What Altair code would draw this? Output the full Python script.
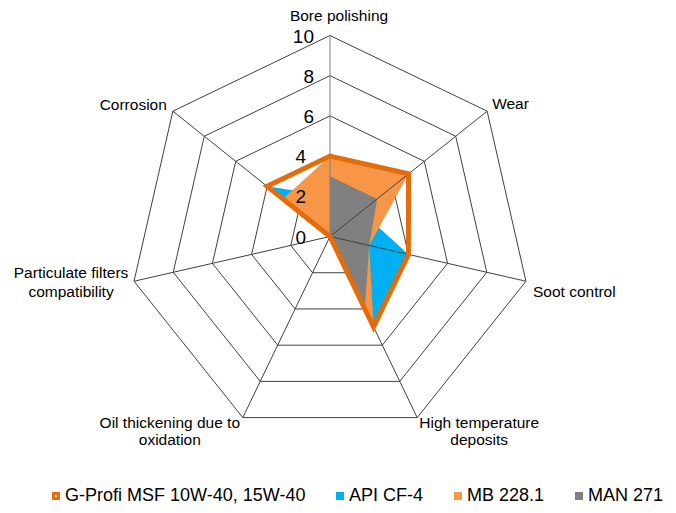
import altair as alt
import pandas as pd

# ---------------- data ----------------
categories = [
    "Bore polishing",
    "Wear",
    "Soot control",
    "High temperature\ndeposits",
    "Oil thickening due to\noxidation",
    "Particulate filters\ncompatibility",
    "Corrosion",
]
series_names = ["G-Profi MSF 10W-40, 15W-40", "API CF-4", "MB 228.1", "MAN 271"]
g_profi = [4, 5, 4, 5, 0, 0, 4]
api_cf4 = [2, 2, 4, 5, 0, 0, 4]
mb_2281 = [4, 5, 2, 5, 0, 0, 3]
man_271 = [3, 3, 2, 4, 0, 0, 0]
ticks = [0, 2, 4, 6, 8, 10]

# ---------------- style ----------------
colors = ["#E46C0A", "#00B0F0", "#F79646", "#808080"]
FONT = "Liberation Sans"
GRID = "#404040"

series_values = [g_profi, api_cf4, mb_2281, man_271]
N = len(categories)

rows = []
for s, vals in zip(series_names, series_values):
    for k, v in enumerate(vals):
        rows.append({"series": s, "k": k, "category": categories[k], "value": v})
df = pd.DataFrame(rows)
cat_df = pd.DataFrame({"k": list(range(N)), "category": categories})
ring_df = pd.DataFrame([{"ring": r, "k": k} for r in ticks[1:] for k in range(N)])
tick_df = pd.DataFrame({"tick": ticks})

PAD_TOP = 8
W, H = 660, 489
CX, CY = 322, 228.5 - PAD_TOP
UNIT = 20.1
xs = alt.Scale(domain=[-CX / UNIT, (W - CX) / UNIT], nice=False, zero=False)
ys = alt.Scale(domain=[-(H - CY) / UNIT, CY / UNIT], nice=False, zero=False)
ANG = f"datum.k * 2 * PI / {N}"
RMAX = ticks[-1]


def X(f):
    return alt.X(f"{f}:Q", scale=xs, axis=None)


def Y(f):
    return alt.Y(f"{f}:Q", scale=ys, axis=None)


def polar(ch, rfield):
    return ch.transform_calculate(ang=ANG).transform_calculate(
        px=f"datum.{rfield} * sin(datum.ang)", py=f"datum.{rfield} * cos(datum.ang)"
    )


layers = []

# rings
rings = polar(alt.Chart(ring_df), "ring").mark_line(
    interpolate="linear-closed", stroke=GRID, strokeWidth=1
).encode(x=X("px"), y=Y("py"), detail="ring:N", order="k:Q")
layers.append(rings)

# filled series
for i in [1, 2, 3]:
    name = series_names[i]
    f = polar(
        alt.Chart(df).transform_filter(alt.datum.series == name), "value"
    ).mark_line(
        interpolate="linear-closed", fill=colors[i], strokeWidth=0, strokeOpacity=0
    ).encode(x=X("px"), y=Y("py"), order="k:Q")
    layers.append(f)

# spokes
spokes = alt.Chart(cat_df).transform_calculate(ang=ANG).transform_calculate(
    ex=f"{RMAX} * sin(datum.ang)", ey=f"{RMAX} * cos(datum.ang)", zx="0", zy="0"
).mark_rule(strokeWidth=1).encode(
    x=X("zx"), y=Y("zy"), x2="ex:Q", y2="ey:Q",
    stroke=alt.condition("datum.k == 0", alt.value("#808080"), alt.value(GRID)),
)
layers.append(spokes)

# G-Profi outline
gline = polar(
    alt.Chart(df).transform_filter(alt.datum.series == series_names[0]), "value"
).mark_line(
    interpolate="linear-closed", stroke=colors[0], strokeWidth=5, strokeJoin="miter"
).encode(x=X("px"), y=Y("py"), order="k:Q")
layers.append(gline)

# legend carrier
hole = "M-1,-1H1V1H-1Z M-0.22,-0.22V0.22H0.22V-0.22Z"
leg = alt.Legend(
    title=None, orient="none", legendX=39, legendY=487 - 8 - PAD_TOP,
    direction="horizontal",
    symbolSize=64, labelFontSize=18, labelFont=FONT, labelColor="black", labelLimit=0,
    columnPadding=25, labelOffset=0, symbolOffset=0, padding=0, symbolStrokeWidth=0,
)
legend_pts = polar(
    alt.Chart(df).transform_filter("datum.k == 4"), "value"
).mark_point(filled=True, size=0, opacity=1).encode(
    x=X("px"), y=Y("py"),
    fill=alt.Fill("series:N", scale=alt.Scale(domain=series_names, range=colors), legend=leg),
    shape=alt.Shape("series:N", scale=alt.Scale(domain=series_names,
                    range=[hole, "square", "square", "square"]), legend=leg),
)
layers.append(legend_pts)

# tick labels
for cond, dx in [("datum.tick >= 6", -16), ("datum.tick < 6", -24)]:
    t = alt.Chart(tick_df).transform_filter(cond).transform_calculate(zx="0").mark_text(
        align="right", baseline="middle", dx=dx, dy=1, fontSize=19, font=FONT, color="black"
    ).encode(x=X("zx"), y=alt.Y("tick:Q", scale=ys, axis=None), text="tick:Q")
    layers.append(t)

# category labels: (align, dx, dy, lineHeight)
label_layout = {
    0: ("center", 9, -14.5, 17),
    1: ("left", 5, -2, 17),
    2: ("left", 7, 16, 17),
    3: ("center", 62, 10.5, 17),
    4: ("center", -73, 10.5, 17),
    5: ("center", -63, -3, 19),
    6: ("right", -6, -1, 17),
}
for k, (al, dx, dy, lh) in label_layout.items():
    c = alt.Chart(cat_df).transform_filter(f"datum.k == {k}").transform_calculate(
        ang=ANG
    ).transform_calculate(
        px=f"{RMAX} * sin(datum.ang)", py=f"{RMAX} * cos(datum.ang)"
    ).mark_text(
        align=al, baseline="alphabetic", dx=dx, dy=dy, fontSize=15.5, font=FONT,
        color="black", lineBreak="\n", lineHeight=lh,
    ).encode(x=X("px"), y=Y("py"), text="category:N")
    layers.append(c)

chart = alt.layer(*layers).properties(
    width=W, height=H,
    padding={"left": 0, "top": PAD_TOP, "right": 0, "bottom": 0},
    autosize=alt.AutoSizeParams(type="none"),
).configure_view(stroke=None)

chart.save("out.html", embed_options={"renderer": "svg", "actions": False})
